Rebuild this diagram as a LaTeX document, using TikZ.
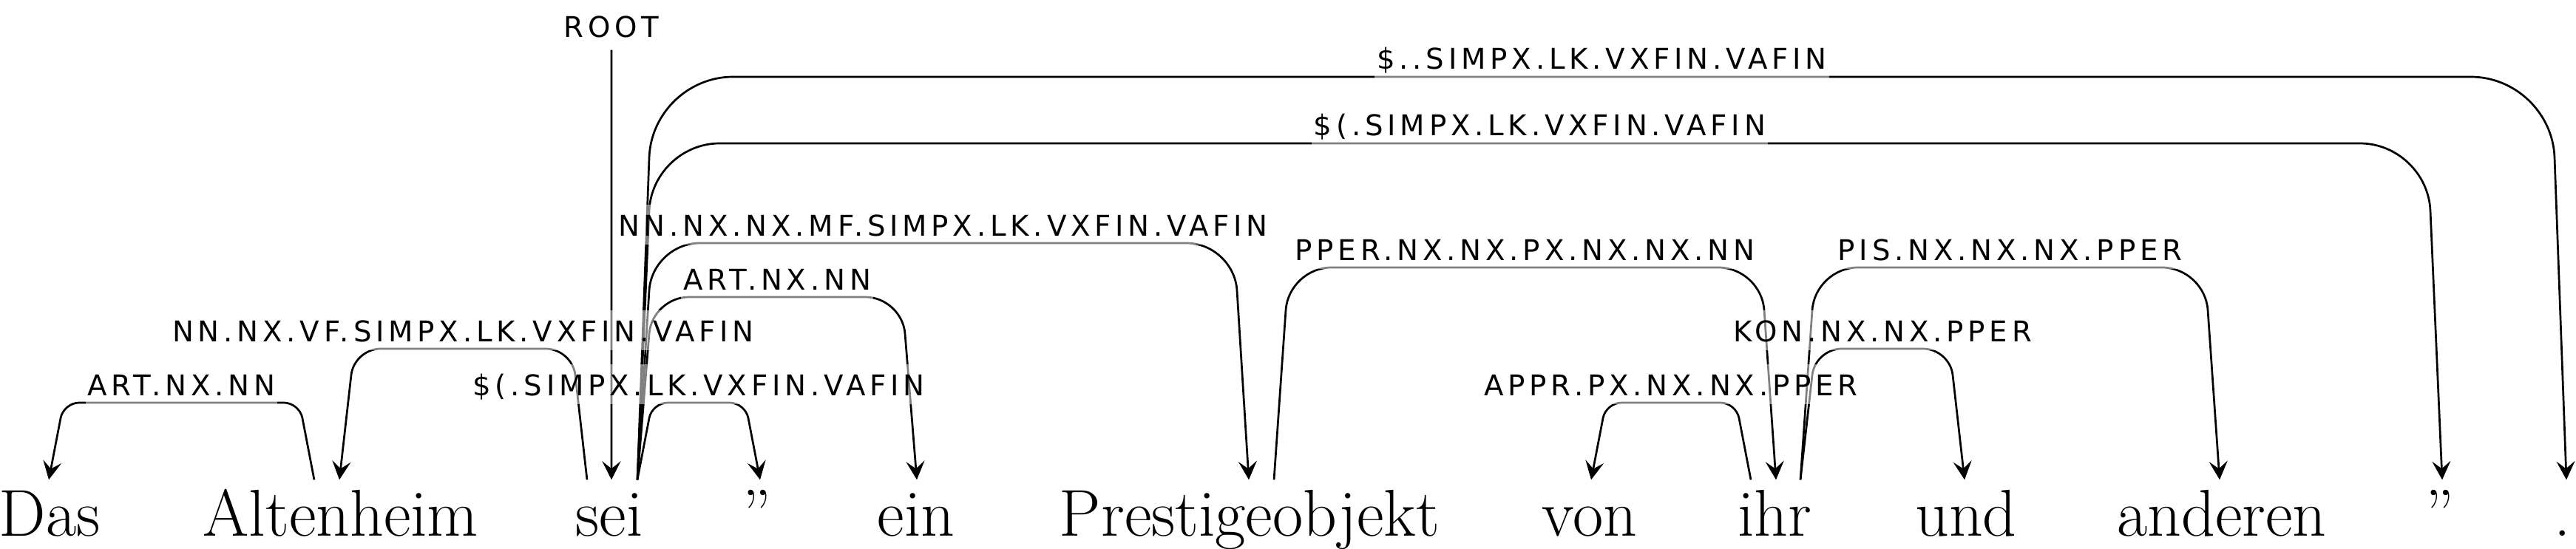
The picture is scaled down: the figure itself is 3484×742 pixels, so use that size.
\documentclass[tikz,border=0pt]{standalone}
\usepackage{fontspec}
\usepackage{tikz}
\usetikzlibrary{calc,arrows.meta}
\newfontfamily\lblfont[LetterSpace=15]{DejaVu Sans}
\pgfdeclarelayer{fg}
\pgfsetlayers{main,fg}
\tikzset{
  word/.style={font=\fontsize{25.5pt}{28pt}\selectfont,anchor=base,inner sep=0pt,text height=0.75cm},
  lbl/.style={font=\lblfont\fontsize{11pt}{12pt}\selectfont,fill=white,fill opacity=0.5,text opacity=1,
    anchor=base,yshift=0.1cm,inner xsep=0.03cm,inner ysep=0pt,text height=0.42cm,text depth=0.12cm},
  rootlbl/.style={font=\lblfont\fontsize{11pt}{12pt}\selectfont,anchor=base,inner ysep=0.17cm,text height=0.29cm,text depth=0pt},
  dep/.style={-{Stealth[length=0.25cm,width=0.25cm,inset=0.1cm]},line width=0.77pt}
}
% head, dependent, level (px from top), label, label name
\newcommand{\deparc}[5]{%
  \pgfmathsetmacro{\rr}{0.002*(650-#3)}%
  \path ($(#1)!0.2cm!(#2)$) coordinate (a1) ($(#2)!0.2cm!(#1)$) coordinate (a2)
    ($(#1)!0.5!(#2)$) coordinate (am);
  \draw[dep,rounded corners=\rr cm] (#1) -- (a1 |- 0,#3) -- (a2 |- 0,#3) -- (#2);
  \begin{pgfonlayer}{fg}
    \node[lbl] (#5) at (am |- 0,#3) {#4};
  \end{pgfonlayer}}

\begin{document}
\begin{tikzpicture}[x=0.01cm,y=-0.01cm]
\useasboundingbox (0,0) rectangle (3484,742);
% words
\node[word] (das) at (67,725) {Das};
\node[word] (alt) at (461,725) {Altenheim};
\node[word] (sei) at (824,725) {sei};
\node[word] (q1) at (1024,725) {”};
\node[word] (ein) at (1239,725) {ein};
\node[word] (pres) at (1690,725) {Prestigeobjekt};
\node[word] (von) at (2150,725) {von};
\node[word] (ihr) at (2400,725) {ihr};
\node[word] (und) at (2659,725) {und};
\node[word] (andr) at (3005,725) {anderen};
\node[word] (q2) at (3300,725) {”};
\node[word] (dot) at (3466,725) {.};
% arc ends
\coordinate (das-i) at ([xshift=-0.01cm]das.north);
\coordinate (alt-i) at ([xshift=-0.02cm]alt.north);
\coordinate (alt-o) at ([xshift=-0.36cm]alt.north);
\coordinate (sei-i) at ([xshift=0.03cm]sei.north);
\coordinate (sei-l) at ([xshift=-0.30cm]sei.north);
\coordinate (sei-r) at ([xshift=0.38cm]sei.north);
\coordinate (q1-i) at ([xshift=0.04cm]q1.north);
\coordinate (ein-i) at ([xshift=0.01cm]ein.north);
\coordinate (pres-i) at ([xshift=-0.01cm]pres.north);
\coordinate (pres-o) at ([xshift=0.33cm]pres.north);
\coordinate (von-i) at ([xshift=0.02cm]von.north);
\coordinate (ihr-i) at ([xshift=0.02cm]ihr.north);
\coordinate (ihr-l) at ([xshift=-0.32cm]ihr.north);
\coordinate (ihr-r) at ([xshift=0.35cm]ihr.north);
\coordinate (und-i) at ([xshift=-0.02cm]und.north);
\coordinate (andr-i) at ([xshift=-0.03cm]andr.north);
\coordinate (q2-i) at ([xshift=0.03cm]q2.north);
\coordinate (dot-i) at ([xshift=0.05cm]dot.north);
% root
\node[rootlbl] (root) at (827,50) {ROOT};
\draw[dep] (root) -- (sei-i);
% arcs
\deparc{alt-o}{das-i}{545}{ART.NX.NN}{l1}
\deparc{sei-l}{alt-i}{472}{NN.NX.VF.SIMPX.LK.VXFIN.VAFIN}{l2}
\deparc{sei-r}{q1-i}{545}{\$(.SIMPX.LK.VXFIN.VAFIN}{l3}
\deparc{sei-r}{ein-i}{402}{ART.NX.NN}{l4}
\deparc{sei-r}{pres-i}{329}{NN.NX.NX.MF.SIMPX.LK.VXFIN.VAFIN}{l5}
\deparc{sei-r}{q2-i}{194}{\$(.SIMPX.LK.VXFIN.VAFIN}{l6}
\deparc{sei-r}{dot-i}{104}{\$..SIMPX.LK.VXFIN.VAFIN}{l7}
\deparc{pres-o}{ihr-i}{362}{PPER.NX.NX.PX.NX.NX.NN}{l8}
\deparc{ihr-l}{von-i}{545}{APPR.PX.NX.NX.PPER}{l9}
\deparc{ihr-r}{und-i}{472}{KON.NX.NX.PPER}{l10}
\deparc{ihr-r}{andr-i}{362}{PIS.NX.NX.NX.PPER}{l11}
\end{tikzpicture}
\end{document}
